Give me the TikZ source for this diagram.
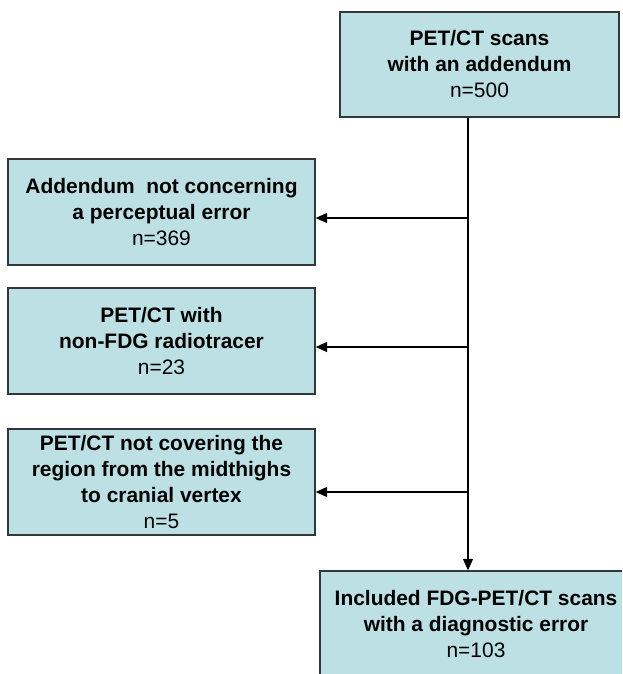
\documentclass[tikz,border=0pt]{standalone}
\usepackage{fontspec}
\setmainfont{Liberation Sans}
\usetikzlibrary{arrows.meta}
\definecolor{boxfill}{RGB}{188,224,228}
\definecolor{boxline}{RGB}{50,55,60}
\begin{document}
\begin{tikzpicture}[
  x=0.75pt, y=-0.75pt,
  font=\fontsize{15.7}{19.5}\selectfont,
  box/.style={draw=boxline, fill=boxfill, line width=1.1pt, align=center, inner sep=0pt},
  sidebox/.style={box, minimum width=230.25pt, minimum height=79.5pt},
  flowarr/.style={-{Triangle[length=8.5pt,width=7.5pt]}, line width=1pt, black}
]
\useasboundingbox (0,0) rectangle (622,674);
\clip (0,0) rectangle (622,674);

% Left column centre and trunk position
\def\colx{161.5}
\def\trunkx{468}

% Top box
\node[box, minimum width=209.25pt, minimum height=78.75pt] (scans) at (479.5,64.5)
  {\textbf{PET/CT scans}\\\textbf{with an addendum}\\n=500};

% Excluded boxes
\node[sidebox] (excl1) at (\colx,212)
  {\textbf{Addendum\ \ not concerning}\\\textbf{a perceptual error}\\n=369};
\node[sidebox] (excl2) at (\colx,341)
  {\textbf{PET/CT with}\\\textbf{non-FDG radiotracer}\\n=23};
\node[sidebox] (excl3) at (\colx,482)
  {\textbf{PET/CT not covering the}\\\textbf{region from the midthighs}\\\textbf{to cranial vertex}\\n=5};

% Included box (runs off the page)
\node[box, minimum width=234pt, minimum height=79.5pt] (incl) at (476,624)
  {\textbf{Included FDG-PET/CT scans}\\\textbf{with a diagnostic error}\\n=103};

% Trunk and branch points
\coordinate (trunk) at (\trunkx,0);
\coordinate (j1) at (\trunkx,218);
\coordinate (j2) at (\trunkx,347);
\coordinate (j3) at (\trunkx,492);

\draw[flowarr] (scans.south -| trunk) -- (incl.north -| trunk);
\draw[flowarr] (j1) -- (j1 -| excl1.east);
\draw[flowarr] (j2) -- (j2 -| excl2.east);
\draw[flowarr] (j3) -- (j3 -| excl3.east);

\end{tikzpicture}
\end{document}
